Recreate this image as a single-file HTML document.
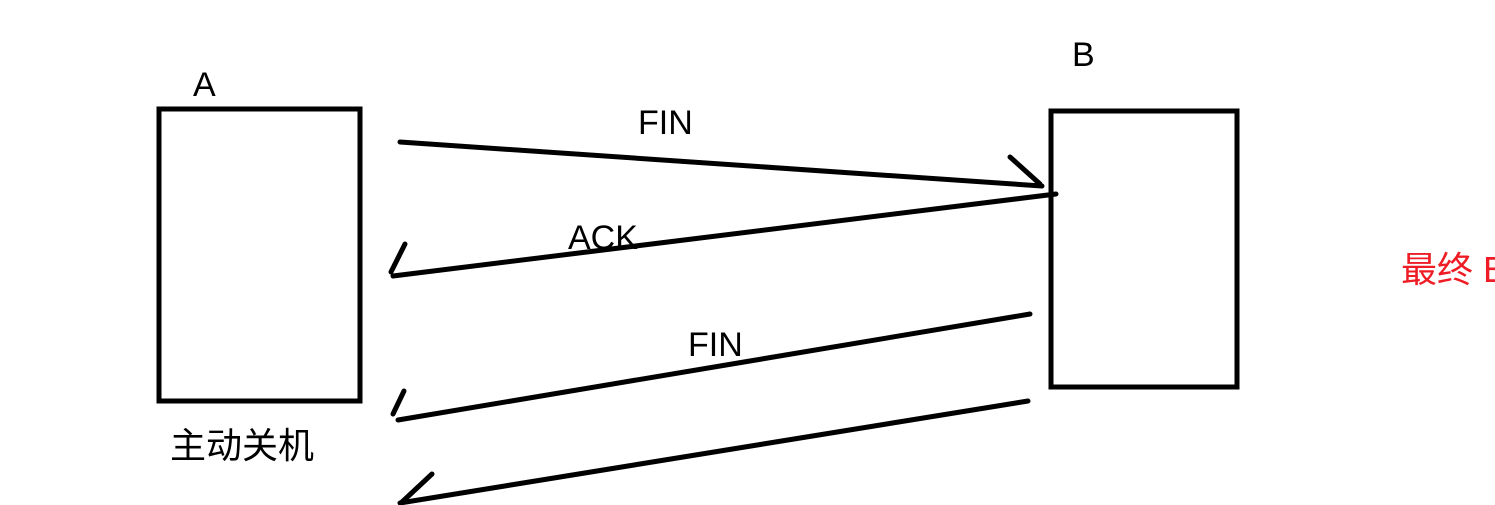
<!DOCTYPE html>
<html><head><meta charset="utf-8"><style>
html,body{margin:0;padding:0;background:#fff;width:1495px;height:505px;overflow:hidden}
text{font-family:"Liberation Sans","Noto Sans CJK SC",sans-serif}
</style></head><body>
<svg width="1495" height="505" xmlns="http://www.w3.org/2000/svg">
<g fill="none" stroke="#000" stroke-width="5" stroke-linecap="round">
<rect x="159" y="109" width="201" height="292"/>
<rect x="1051" y="111" width="186" height="276"/>
<line x1="400" y1="142" x2="1042" y2="186"/>
<line x1="1010" y1="157" x2="1040" y2="184"/>
<line x1="1056" y1="194" x2="393" y2="276"/>
<line x1="405" y1="244" x2="391" y2="272"/>
<line x1="1030" y1="314" x2="398" y2="420"/>
<line x1="404" y1="391" x2="393" y2="414"/>
<line x1="1028" y1="401" x2="400" y2="503"/>
<line x1="432" y1="474" x2="402" y2="502"/>
</g>
<g fill="#000" font-size="34">
<text x="193" y="96">A</text>
<text x="1072" y="66">B</text>
<text x="638" y="134">FIN</text>
<text x="568" y="249">ACK</text>
<text x="688" y="356">FIN</text>
<text x="170" y="458" font-size="36">主动关机</text>
</g>
<text x="1401" y="282" font-size="36" fill="#ee1c24">最终 B</text>
</svg>
</body></html>
